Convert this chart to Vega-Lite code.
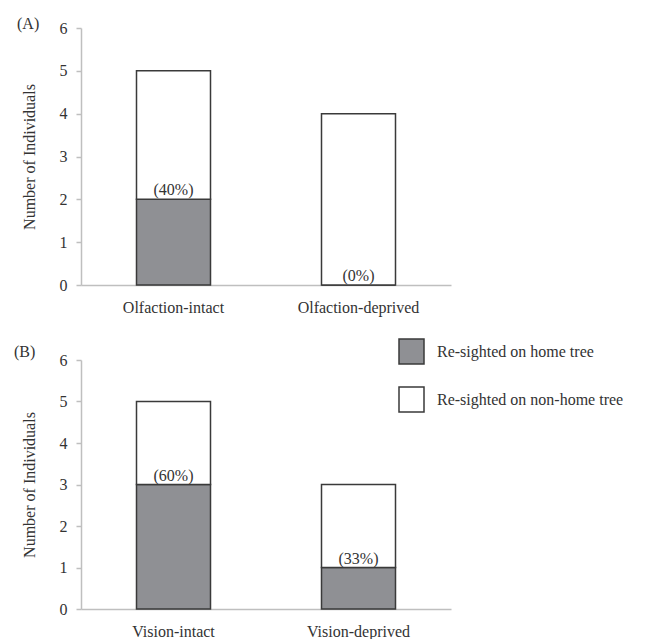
{
  "$schema": "https://vega.github.io/schema/vega-lite/v6.json",
  "background": "white",
  "padding": {"left": 14, "top": 16, "right": 5, "bottom": 0},
  "config": {
    "font": "Liberation Serif",
    "view": {"stroke": null},
    "axis": {"labelFont": "Liberation Serif", "titleFont": "Liberation Serif", "labelColor": "#333333", "titleColor": "#333333", "labelFontSize": 16, "titleFontSize": 16, "titleFontWeight": "normal", "domainColor": "#bfbfbf", "tickColor": "#bfbfbf", "domainWidth": 1.5, "tickWidth": 1.5, "grid": false},
    "legend": {"labelFont": "Liberation Serif", "labelFontSize": 16, "labelColor": "#333333", "labelLimit": 0},
    "title": {"font": "Liberation Serif", "fontSize": 16, "fontWeight": "normal", "color": "#333333"}
  },
  "datasets": {
    "a": [
      {"group": "Olfaction-intact", "type": "Re-sighted on home tree", "n": 2, "ord": 1, "pct": "(40%)"},
      {"group": "Olfaction-intact", "type": "Re-sighted on non-home tree", "n": 3, "ord": 2, "pct": ""},
      {"group": "Olfaction-deprived", "type": "Re-sighted on home tree", "n": 0, "ord": 1, "pct": "(0%)"},
      {"group": "Olfaction-deprived", "type": "Re-sighted on non-home tree", "n": 4, "ord": 2, "pct": ""}
    ],
    "b": [
      {"group": "Vision-intact", "type": "Re-sighted on home tree", "n": 3, "ord": 1, "pct": "(60%)"},
      {"group": "Vision-intact", "type": "Re-sighted on non-home tree", "n": 2, "ord": 2, "pct": ""},
      {"group": "Vision-deprived", "type": "Re-sighted on home tree", "n": 1, "ord": 1, "pct": "(33%)"},
      {"group": "Vision-deprived", "type": "Re-sighted on non-home tree", "n": 2, "ord": 2, "pct": ""}
    ]
  },
  "resolve": {"scale": {"color": "independent"}, "legend": {"color": "independent"}},
  "spacing": 23,
  "vconcat": [
    {
      "title": {"text": "(A)", "anchor": "start", "frame": "bounds", "dx": -4, "offset": -12},
      "width": 370,
      "height": 257,
      "data": {"name": "a"},
      "layer": [
        {
          "mark": {"type": "bar", "stroke": "#3a3a3a", "strokeWidth": 1.5},
          "encoding": {
            "x": {"field": "group", "type": "nominal", "sort": ["Olfaction-intact", "Olfaction-deprived"], "scale": {"paddingInner": 0.6, "paddingOuter": 0.3}, "axis": {"title": null, "labelAngle": 0, "ticks": false, "labelPadding": 14}},
            "y": {"field": "n", "type": "quantitative", "stack": "zero", "scale": {"domain": [0, 6]}, "axis": {"title": "Number of Individuals", "values": [0, 1, 2, 3, 4, 5, 6], "tickSize": 5, "labelPadding": 9, "titlePadding": 22}},
            "color": {"field": "type", "type": "nominal", "scale": {"domain": ["Re-sighted on home tree", "Re-sighted on non-home tree"], "range": ["#8f9094", "#ffffff"]}, "legend": null},
            "order": {"field": "ord", "type": "quantitative"}
          }
        },
        {
          "transform": [{"filter": "datum.ord == 1"}],
          "mark": {"type": "text", "baseline": "bottom", "dy": -1, "fontSize": 16, "color": "#333333"},
          "encoding": {
            "x": {"field": "group", "type": "nominal", "sort": ["Olfaction-intact", "Olfaction-deprived"]},
            "y": {"field": "n", "type": "quantitative"},
            "text": {"field": "pct"}
          }
        }
      ]
    },
    {
      "title": {"text": "(B)", "anchor": "start", "frame": "bounds", "dx": -7, "offset": -22},
      "width": 370,
      "height": 249,
      "data": {"name": "b"},
      "layer": [
        {
          "mark": {"type": "bar", "stroke": "#3a3a3a", "strokeWidth": 1.5},
          "encoding": {
            "x": {"field": "group", "type": "nominal", "sort": ["Vision-intact", "Vision-deprived"], "scale": {"paddingInner": 0.6, "paddingOuter": 0.3}, "axis": {"title": null, "labelAngle": 0, "ticks": false, "labelPadding": 14}},
            "y": {"field": "n", "type": "quantitative", "stack": "zero", "scale": {"domain": [0, 6]}, "axis": {"title": "Number of Individuals", "values": [0, 1, 2, 3, 4, 5, 6], "tickSize": 5, "labelPadding": 9, "titlePadding": 22}},
            "color": {"field": "type", "type": "nominal", "scale": {"domain": ["Re-sighted on home tree", "Re-sighted on non-home tree"], "range": ["#8f9094", "#ffffff"]}, "legend": {"title": null, "orient": "none", "legendX": 317, "legendY": -22, "symbolType": "square", "symbolSize": 625, "symbolStrokeColor": "#3a3a3a", "symbolStrokeWidth": 1.5, "rowPadding": 17, "labelOffset": 12}},
            "order": {"field": "ord", "type": "quantitative"}
          }
        },
        {
          "transform": [{"filter": "datum.ord == 1"}],
          "mark": {"type": "text", "baseline": "bottom", "dy": -1, "fontSize": 16, "color": "#333333"},
          "encoding": {
            "x": {"field": "group", "type": "nominal", "sort": ["Vision-intact", "Vision-deprived"]},
            "y": {"field": "n", "type": "quantitative"},
            "text": {"field": "pct"}
          }
        }
      ]
    }
  ]
}
